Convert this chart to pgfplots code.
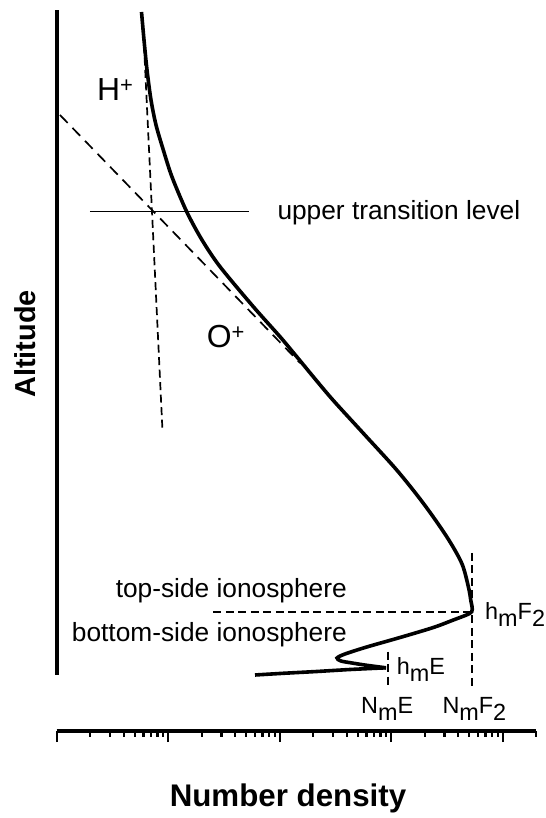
\documentclass[border=0pt]{standalone}
\usepackage{fontspec}
\setmainfont{Liberation Sans}
\usepackage{pgfplots}
\pgfplotsset{compat=1.18}
\newcommand\lbl{\fontsize{26.4}{30}\selectfont}
\newcommand\slbl{\fontsize{23.5}{26}\selectfont}
\newcommand\low[1]{\raisebox{-7bp}{#1}}
\newcommand\ion{\fontsize{32}{36}\selectfont}
\newcommand\sups[1]{\raisebox{8bp}{\fontsize{22}{22}\selectfont #1}}
\begin{document}
\begin{tikzpicture}
\path[use as bounding box] (-56.7bp,-87bp) rectangle (489.3bp,731bp);
\begin{axis}[
  at={(0,0)}, anchor=south west,
  scale only axis, width=479.6bp, height=721bp,
  xmode=log, xmin=1, xmax=20000, ymin=0, ymax=721,
  clip=false,
  axis x line*=bottom, axis y line=none,
  x axis line style={line width=3bp, -},
  xtick={1,10,100,1000,10000},
  minor xtick={2,3,4,5,6,7,8,9,20,30,40,50,60,70,80,90,200,300,400,500,600,700,800,900,2000,3000,4000,5000,6000,7000,8000,9000,20000},
  xticklabels={},
  tick align=outside,
  major tick length=11bp, minor tick length=5.5bp,
  tick style={line width=2.2bp, black},
]
% left vertical line
\addplot[line width=4bp] coordinates {(1,56) (1,721)};
% main profile
\addplot[line width=3.6bp, smooth, tension=0.5] coordinates {
(5.762,719) (6.067,691) (6.455,661) (7.010,631) (7.775,606) (9.040,581)
(10.82,554) (14.65,519.3) (20.10,491) (29.15,464.3) (57.98,424.3)
(100.6,394.3) (142.1,374.3) (282.5,334.3) (562.1,297.7) (1120,261)
(1941,227.7) (3146,194.3) (4289,167.7) (4916,144.3) (5164,131) (5272,119.3)
(4140,113.5) (3606,111) (2386,103.5) (1199,93.5) (603,84) (385,77)
(326.6,73) (354.6,70) (445,68) (603,65.7) (898,63.2)};
\addplot[line width=3.6bp, smooth, tension=0.4] coordinates {
(898,63.2) (427,61.5) (214.7,59.5) (107.7,57.7) (60.05,56)};
% H+ asymptote
\addplot[line width=1.7bp, dash pattern=on 8bp off 4.5bp] coordinates {(6.067,686) (8.889,300)};
% O+ asymptote
\addplot[line width=1.7bp, dash pattern=on 11bp off 7bp] coordinates {(1.070,616) (152.1,368)};
% upper transition level
\addplot[line width=1.6bp] coordinates {(1.989,519.3) (53.05,519.3)};
% hmF2 horizontal
\addplot[line width=1.7bp, dash pattern=on 8bp off 4.5bp] coordinates {(25.38,119.3) (5272,119.3)};
% NmF2 vertical
\addplot[line width=1.7bp, dash pattern=on 8bp off 4.5bp] coordinates {(5272,178) (5272,43)};
% NmE vertical
\addplot[line width=1.7bp, dash pattern=on 8bp off 4.5bp] coordinates {(930.2,79.3) (930.2,42.7)};
\end{axis}
\node[anchor=base west, inner sep=0, font=\lbl] at (220.6bp,511bp) {upper transition level};
\node[anchor=base east, inner sep=0, font=\lbl] at (290.3bp,133.7bp) {top-side ionosphere};
\node[anchor=base east, inner sep=0, font=\lbl] at (290.3bp,89.3bp) {bottom-side ionosphere};
\node[anchor=base west, inner sep=0, font=\slbl] at (428.3bp,111.7bp) {h\low{m}F\low{2}};
\node[anchor=base west, inner sep=0, font=\slbl] at (340bp,56bp) {h\low{m}E};
\node[anchor=base west, inner sep=0, font=\slbl] at (304.3bp,17.7bp) {N\low{m}E};
\node[anchor=base west, inner sep=0, font=\slbl] at (385.6bp,17.7bp) {N\low{m}F\low{2}};
\node[anchor=base west, inner sep=0, font=\ion] at (40.1bp,630.3bp) {H\sups{+}};
\node[anchor=base west, inner sep=0, font=\ion] at (150bp,383.5bp) {O\sups{+}};
\node[anchor=base, inner sep=0, font=\bfseries\fontsize{31.4}{34}\selectfont] at (231.3bp,-75bp) {Number density};
\node[anchor=base, inner sep=0, rotate=90, font=\bfseries\fontsize{29}{32}\selectfont] at (-21.7bp,387bp) {Altitude};
\end{tikzpicture}
\end{document}
